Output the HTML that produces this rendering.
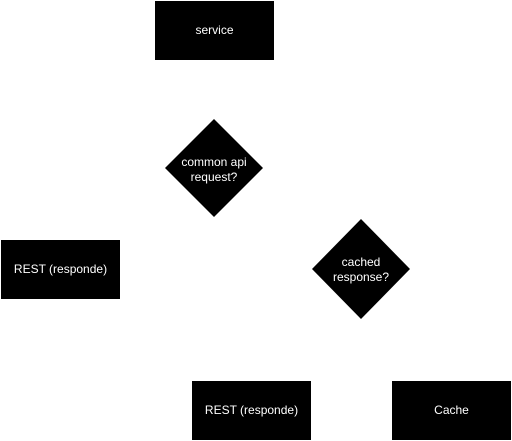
<!DOCTYPE html>
<html><head><style>
html,body{margin:0;padding:0;background:#fff;width:512px;height:441px;overflow:hidden}
</style></head><body>
<svg width="512" height="441" xmlns="http://www.w3.org/2000/svg" font-family="Liberation Sans, Arial, sans-serif" font-size="12" fill="#fff">
<rect x="155" y="1" width="119" height="59" fill="#000"/>
<text x="214.5" y="34" text-anchor="middle">service</text>
<polygon points="214,119 263,168 214,217 165,168" fill="#000"/>
<text x="214" y="166" text-anchor="middle">common api</text>
<text x="214" y="181" text-anchor="middle">request?</text>
<rect x="1" y="240" width="119" height="59" fill="#000"/>
<text x="60.5" y="273" text-anchor="middle">REST (responde)</text>
<polygon points="361,219 410,269 361,319 312,269" fill="#000"/>
<text x="361" y="266" text-anchor="middle">cached</text>
<text x="361" y="281" text-anchor="middle">response?</text>
<rect x="192" y="381" width="119" height="59" fill="#000"/>
<text x="251.5" y="414" text-anchor="middle">REST (responde)</text>
<rect x="392" y="381" width="119" height="59" fill="#000"/>
<text x="451.5" y="414" text-anchor="middle">Cache</text>
</svg>
</body></html>
